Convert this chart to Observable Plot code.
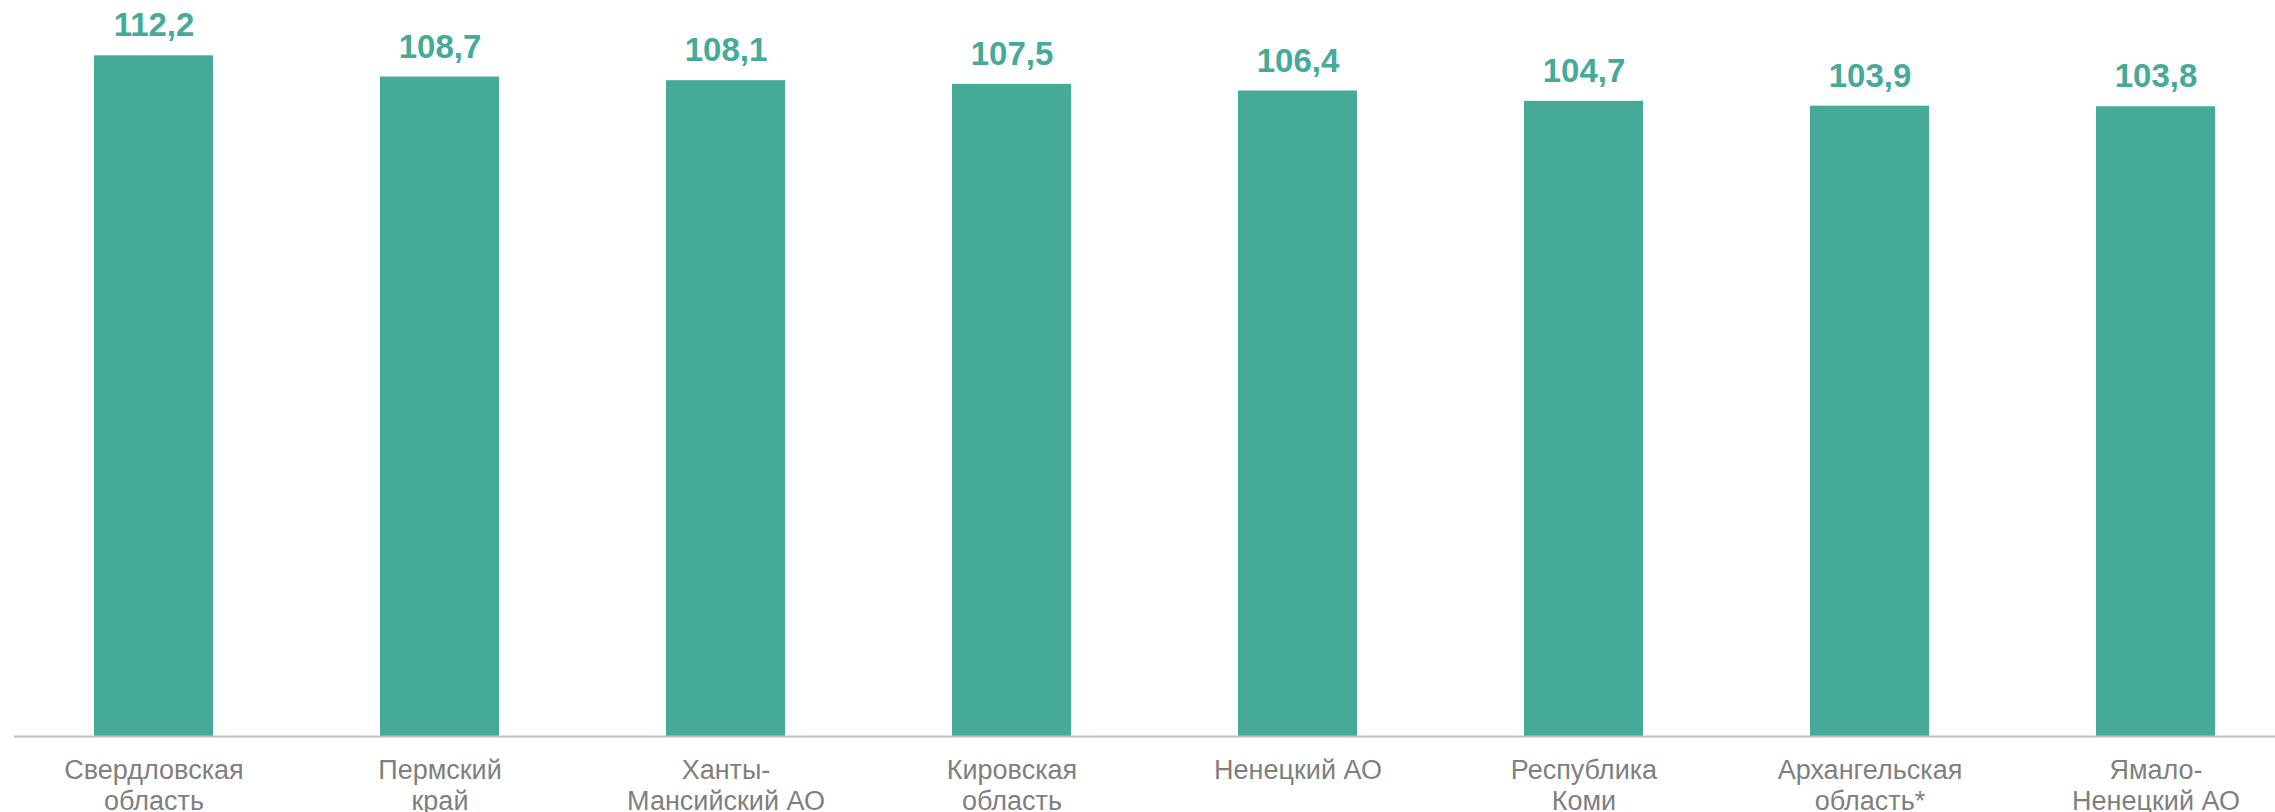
<!DOCTYPE html>
<html>
<head>
<meta charset="utf-8">
<script src="https://cdn.jsdelivr.net/npm/d3@7"></script>
<script src="https://cdn.jsdelivr.net/npm/@observablehq/plot@0.6"></script>
<style>
  html, body { margin: 0; padding: 0; background: #fff; }
  #chart svg { display: block; }
</style>
</head>
<body>
<div id="chart"></div>
<script>
const categories = [
  "Свердловская\nобласть",
  "Пермский\nкрай",
  "Ханты-\nМансийский АО",
  "Кировская\nобласть",
  "Ненецкий АО",
  "Республика\nКоми",
  "Архангельская\nобласть*",
  "Ямало-\nНенецкий АО"
];
const values = [112.2, 108.7, 108.1, 107.5, 106.4, 104.7, 103.9, 103.8];
const valueLabels = ["112,2", "108,7", "108,1", "107,5", "106,4", "104,7", "103,9", "103,8"];

const data = categories.map((c, i) => ({category: c, value: values[i], label: valueLabels[i]}));

const teal = "#45aa98";

const chart = Plot.plot({
  width: 2275,
  height: 812,
  marginTop: 8,
  marginBottom: 76,
  marginLeft: 14,
  marginRight: 0,
  style: {fontFamily: "Liberation Sans, Arial, sans-serif", background: "#fff"},
  x: {domain: categories, range: [10.5, 2298.5], paddingInner: 0.584, paddingOuter: 0.292, axis: null},
  y: {domain: [0, 120], axis: null},
  marks: [
    Plot.barY(data, {x: "category", y: "value", fill: teal}),
    Plot.ruleY([0], {stroke: "#bfbfbf", strokeWidth: 2}),
    Plot.text(data, {x: "category", y: "value", text: "label", fill: teal, fontSize: 33, fontWeight: "bold", lineAnchor: "middle", dy: -30}),
    Plot.text(data, {x: "category", y: 0, text: "category", fill: "#7f7f7f", fontSize: 27, lineAnchor: "top", lineHeight: 1.15, dy: 20})
  ]
});
document.getElementById("chart").appendChild(chart);
</script>
</body>
</html>
